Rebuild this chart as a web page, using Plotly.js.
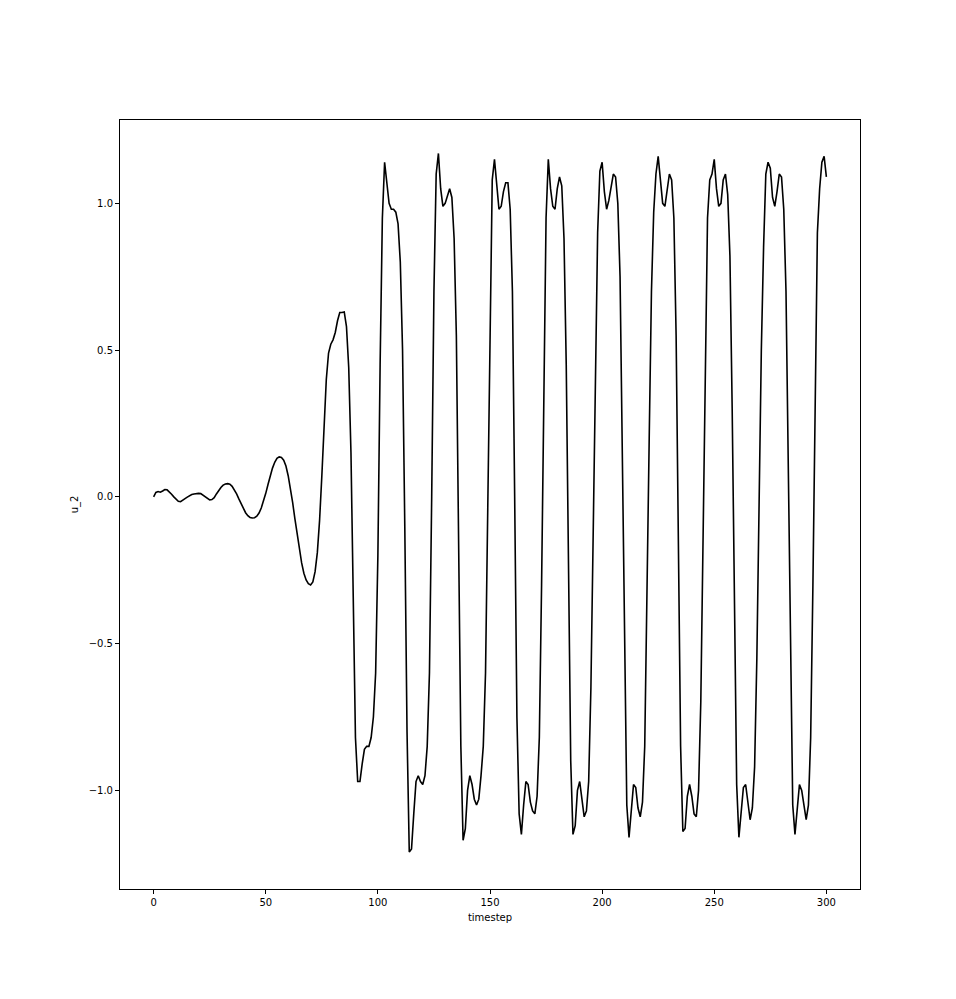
<!DOCTYPE html>
<html>
<head>
<meta charset="utf-8">
<script src="https://cdn.plot.ly/plotly-3.0.1.min.js"></script>
<style>body{margin:0;background:#fff}</style>
</head>
<body>
<div id="plot"></div>
<script>
// u_2 per timestep
const u2 = [
  0.0, 0.015, 0.018, 0.016, 0.02, 0.025, 0.024, 0.018, 0.009, 0.0,
  -0.009, -0.015, -0.016, -0.012, -0.006, -0.001, 0.004, 0.008, 0.01, 0.012,
  0.012, 0.011, 0.006, 0.0, -0.006, -0.01, -0.009, -0.003, 0.01, 0.022,
  0.032, 0.04, 0.044, 0.045, 0.043, 0.036, 0.024, 0.01, -0.007, -0.024,
  -0.04, -0.054, -0.064, -0.07, -0.072, -0.071, -0.066, -0.055, -0.038, -0.015,
  0.012, 0.042, 0.072, 0.098, 0.118, 0.131, 0.136, 0.134, 0.125, 0.105,
  0.072, 0.03, -0.02, -0.075, -0.13, -0.18, -0.225, -0.26, -0.283, -0.296,
  -0.3, -0.29, -0.255, -0.19, -0.08, 0.07, 0.25, 0.4, 0.49, 0.52,
  0.535, 0.56, 0.6, 0.628, 0.628, 0.63, 0.58, 0.44, 0.15, -0.3,
  -0.82, -0.97, -0.97, -0.91, -0.86, -0.85, -0.85, -0.82, -0.75, -0.6,
  -0.2, 0.45, 0.95, 1.14, 1.08, 1.0, 0.98, 0.98, 0.97, 0.93,
  0.8, 0.5, -0.1, -0.8, -1.21, -1.2, -1.08, -0.97, -0.95, -0.97,
  -0.98, -0.95, -0.85, -0.6, 0.0, 0.7, 1.1, 1.17, 1.05, 0.99,
  1.0, 1.03, 1.05, 1.02, 0.88, 0.55, -0.1, -0.85, -1.17, -1.13,
  -1.0, -0.95, -0.98, -1.03, -1.05, -1.03, -0.95, -0.85, -0.6, -0.05,
  0.6, 1.08, 1.15, 1.05, 0.98, 0.99, 1.04, 1.07, 1.07, 0.98,
  0.7, 0.0, -0.75, -1.08, -1.15, -1.05, -0.97, -0.98, -1.04, -1.07,
  -1.08, -1.02, -0.82, -0.3, 0.4, 0.95, 1.15, 1.05, 0.99, 0.98,
  1.05, 1.09, 1.06, 0.88, 0.45, -0.3, -0.9, -1.15, -1.12, -1.0,
  -0.97, -1.03, -1.09, -1.07, -0.97, -0.65, -0.1, 0.45, 0.9, 1.11,
  1.14, 1.04, 0.98, 1.01, 1.06, 1.1, 1.09, 1.0, 0.75, 0.2,
  -0.5, -1.05, -1.16, -1.08, -0.98, -0.99, -1.06, -1.09, -1.04, -0.85,
  -0.4, 0.2, 0.7, 0.97, 1.1, 1.16, 1.08, 1.0, 0.99, 1.05,
  1.1, 1.08, 0.95, 0.55, -0.15, -0.85, -1.14, -1.13, -1.02, -0.98,
  -1.02, -1.08, -1.09, -1.0, -0.7, -0.1, 0.5, 0.95, 1.08, 1.1,
  1.15, 1.05, 0.99, 1.0, 1.08, 1.1, 1.03, 0.82, 0.3, -0.4,
  -0.98, -1.16, -1.08, -0.99, -0.98, -1.05, -1.1, -1.06, -0.92, -0.55,
  0.0, 0.5, 0.85, 1.1, 1.14, 1.12, 1.02, 0.99, 1.04, 1.1,
  1.09, 0.98, 0.7, 0.1, -0.6, -1.05, -1.15, -1.06, -0.98, -1.0,
  -1.06, -1.1, -1.05, -0.82, -0.3, 0.4, 0.9, 1.05, 1.14, 1.16,
  1.09
];
const timestep = u2.map((_, i) => i);

const axisStyle = {
  showline: true,
  mirror: true,
  linecolor: 'black',
  linewidth: 1,
  ticks: 'outside',
  ticklen: 4,
  tickcolor: 'black',
  showgrid: false,
  zeroline: false,
  tickfont: {size: 10, family: 'DejaVu Sans', color: 'black'}
};

const data = [{
  x: timestep,
  y: u2,
  mode: 'lines',
  line: {width: 1.6, color: 'black'}
}];

const layout = {
  width: 956,
  height: 999,
  paper_bgcolor: 'white',
  plot_bgcolor: 'white',
  showlegend: false,
  margin: {l: 120, r: 96, t: 120, b: 110},
  xaxis: Object.assign({}, axisStyle, {
    range: [-15, 315],
    dtick: 50,
    title: {text: 'timestep', font: {size: 10, family: 'DejaVu Sans', color: 'black'}, standoff: 6}
  }),
  yaxis: Object.assign({}, axisStyle, {
    range: [-1.336, 1.284],
    dtick: 0.5,
    tickformat: '.1f',
    title: {text: 'u_2', font: {size: 10, family: 'DejaVu Sans', color: 'black'}, standoff: 8}
  })
};

Plotly.newPlot('plot', data, layout, {displayModeBar: false});
</script>
</body>
</html>
